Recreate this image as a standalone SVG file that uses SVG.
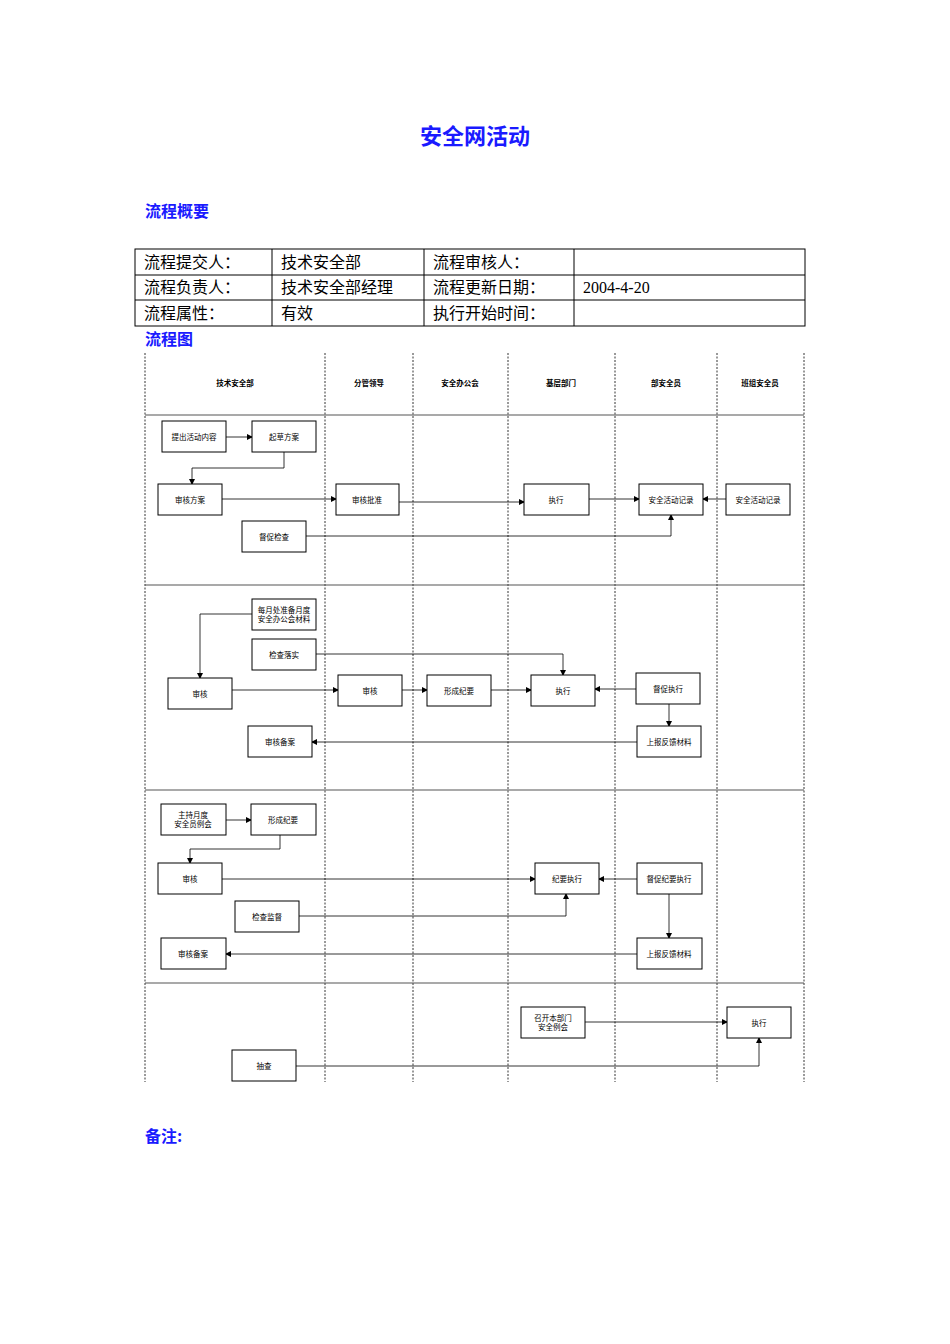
<svg xmlns="http://www.w3.org/2000/svg" width="950" height="1344" viewBox="0 0 950 1344">
<defs>
<marker id="ar" markerWidth="6" markerHeight="6" refX="5" refY="3" orient="auto" markerUnits="userSpaceOnUse"><path d="M0,0 L6,3 L0,6 Z" fill="#000"/></marker>
<style>
.bx{fill:#fff;stroke:#000;stroke-width:1}
.bt{font-family:"Noto Sans CJK SC",sans-serif;font-size:7.5px;text-anchor:middle;fill:#000}
.ht{font-family:"Noto Sans CJK SC",sans-serif;font-size:7.5px;font-weight:bold;text-anchor:middle}
.tt{font-family:"Liberation Serif","Noto Sans CJK SC",serif;font-size:16px}
.hd{font-family:"Noto Sans CJK SC",sans-serif;font-weight:bold;fill:#1a1aff;font-size:16px}
.cn{fill:none;stroke:#000;stroke-width:0.8;marker-end:url(#ar)}
.lane{stroke:#000;stroke-width:0.8;stroke-dasharray:2,1.5}
.sec{stroke:#555;stroke-width:1.2}
</style>
</defs>
<rect width="950" height="1344" fill="#fff"/>
<text x="475" y="144" class="hd" font-size="22" text-anchor="middle" style="font-size:22px">安全网活动</text>
<text x="145" y="217" class="hd">流程概要</text>
<g id="table" fill="none" stroke="#000" stroke-width="1">
<rect x="135" y="249" width="670" height="77"/>
<line x1="135" y1="275" x2="805" y2="275"/><line x1="135" y1="300" x2="805" y2="300"/>
<line x1="272" y1="249" x2="272" y2="326"/><line x1="424" y1="249" x2="424" y2="326"/><line x1="574" y1="249" x2="574" y2="326"/>
</g>
<g class="tt">
<text x="144" y="268">流程提交人：</text><text x="281" y="268">技术安全部</text><text x="433" y="268">流程审核人：</text>
<text x="144" y="293">流程负责人：</text><text x="281" y="293">技术安全部经理</text><text x="433" y="293">流程更新日期：</text><text x="583" y="293">2004-4-20</text>
<text x="144" y="319">流程属性：</text><text x="281" y="319">有效</text><text x="433" y="319">执行开始时间：</text>
</g>
<text x="145" y="345" class="hd">流程图</text>
<g id="lanes">
<line class="lane" x1="145" y1="353" x2="145" y2="1082"/>
<line class="lane" x1="325" y1="353" x2="325" y2="1082"/>
<line class="lane" x1="413" y1="353" x2="413" y2="1082"/>
<line class="lane" x1="508" y1="353" x2="508" y2="1082"/>
<line class="lane" x1="615" y1="353" x2="615" y2="1082"/>
<line class="lane" x1="717" y1="353" x2="717" y2="1082"/>
<line class="lane" x1="804" y1="353" x2="804" y2="1082"/>
<line class="sec" x1="145" y1="415" x2="804" y2="415"/>
<line class="sec" x1="145" y1="585" x2="804" y2="585"/>
<line class="sec" x1="145" y1="790" x2="804" y2="790"/>
<line class="sec" x1="145" y1="983" x2="804" y2="983"/>
<text class="ht" x="235" y="386">技术安全部</text>
<text class="ht" x="369" y="386">分管领导</text>
<text class="ht" x="460" y="386">安全办公会</text>
<text class="ht" x="561" y="386">基层部门</text>
<text class="ht" x="666" y="386">部安全员</text>
<text class="ht" x="760" y="386">班组安全员</text>
</g>
<g id="connectors">
<path class="cn" d="M226,437 H252"/>
<path class="cn" d="M284,452 V468 H192 V484"/>
<path class="cn" d="M222,499 H336"/>
<path class="cn" d="M399,502 H524"/>
<path class="cn" d="M589,499 H639"/>
<path class="cn" d="M726,499 H703"/>
<path class="cn" d="M306,536 H671 V515"/>
<path class="cn" d="M252,614 H200 V678"/>
<path class="cn" d="M316,654 H563 V675"/>
<path class="cn" d="M232,690 H338"/>
<path class="cn" d="M402,690 H427"/>
<path class="cn" d="M491,690 H531"/>
<path class="cn" d="M636,689 H595"/>
<path class="cn" d="M669,704 V726"/>
<path class="cn" d="M637,742 H312"/>
<path class="cn" d="M226,820 H251"/>
<path class="cn" d="M280,835 V849 H190 V863"/>
<path class="cn" d="M222,879 H535"/>
<path class="cn" d="M637,879 H599"/>
<path class="cn" d="M299,916 H566 V894"/>
<path class="cn" d="M669,894 V938"/>
<path class="cn" d="M637,954 H226"/>
<path class="cn" d="M585,1022 H727"/>
<path class="cn" d="M296,1066 H759 V1038"/>
</g>
<g id="n1"><rect class="bx" x="162" y="421" width="64" height="31"/><text class="bt" x="194" y="439.5">提出活动内容</text></g>
<g id="n2"><rect class="bx" x="252" y="421" width="64" height="31"/><text class="bt" x="284" y="439.5">起草方案</text></g>
<g id="n3"><rect class="bx" x="158" y="484" width="64" height="31"/><text class="bt" x="190" y="502.5">审核方案</text></g>
<g id="n4"><rect class="bx" x="242" y="521" width="64" height="31"/><text class="bt" x="274" y="539.5">督促检查</text></g>
<g id="n5"><rect class="bx" x="336" y="484" width="63" height="31"/><text class="bt" x="367" y="502.5">审核批准</text></g>
<g id="n6"><rect class="bx" x="524" y="484" width="65" height="31"/><text class="bt" x="556" y="502.5">执行</text></g>
<g id="n7"><rect class="bx" x="639" y="484" width="64" height="31"/><text class="bt" x="671" y="502.5">安全活动记录</text></g>
<g id="n8"><rect class="bx" x="726" y="484" width="64" height="31"/><text class="bt" x="758" y="502.5">安全活动记录</text></g>
<g id="n9"><rect class="bx" x="252" y="599" width="64" height="31"/><text class="bt" x="284" y="613">每月处准备月度</text><text class="bt" x="284" y="622">安全办公会材料</text></g>
<g id="n10"><rect class="bx" x="252" y="639" width="64" height="31"/><text class="bt" x="284" y="657.5">检查落实</text></g>
<g id="n11"><rect class="bx" x="168" y="678" width="64" height="31"/><text class="bt" x="200" y="696.5">审核</text></g>
<g id="n12"><rect class="bx" x="338" y="675" width="64" height="31"/><text class="bt" x="370" y="693.5">审核</text></g>
<g id="n13"><rect class="bx" x="427" y="675" width="64" height="31"/><text class="bt" x="459" y="693.5">形成纪要</text></g>
<g id="n14"><rect class="bx" x="531" y="675" width="64" height="31"/><text class="bt" x="563" y="693.5">执行</text></g>
<g id="n15"><rect class="bx" x="636" y="673" width="64" height="31"/><text class="bt" x="668" y="691.5">督促执行</text></g>
<g id="n16"><rect class="bx" x="637" y="726" width="64" height="31"/><text class="bt" x="669" y="744.5">上报反馈材料</text></g>
<g id="n17"><rect class="bx" x="248" y="726" width="64" height="31"/><text class="bt" x="280" y="744.5">审核备案</text></g>
<g id="n18"><rect class="bx" x="161" y="804" width="65" height="31"/><text class="bt" x="193" y="818">主持月度</text><text class="bt" x="193" y="827">安全员例会</text></g>
<g id="n19"><rect class="bx" x="251" y="804" width="65" height="31"/><text class="bt" x="283" y="822.5">形成纪要</text></g>
<g id="n20"><rect class="bx" x="158" y="863" width="64" height="31"/><text class="bt" x="190" y="881.5">审核</text></g>
<g id="n21"><rect class="bx" x="535" y="863" width="64" height="31"/><text class="bt" x="567" y="881.5">纪要执行</text></g>
<g id="n22"><rect class="bx" x="637" y="863" width="65" height="31"/><text class="bt" x="669" y="881.5">督促纪要执行</text></g>
<g id="n23"><rect class="bx" x="235" y="901" width="64" height="31"/><text class="bt" x="267" y="919.5">检查监督</text></g>
<g id="n24"><rect class="bx" x="161" y="938" width="65" height="31"/><text class="bt" x="193" y="956.5">审核备案</text></g>
<g id="n25"><rect class="bx" x="637" y="938" width="65" height="31"/><text class="bt" x="669" y="956.5">上报反馈材料</text></g>
<g id="n26"><rect class="bx" x="521" y="1007" width="64" height="31"/><text class="bt" x="553" y="1021">召开本部门</text><text class="bt" x="553" y="1030">安全例会</text></g>
<g id="n27"><rect class="bx" x="727" y="1007" width="64" height="31"/><text class="bt" x="759" y="1025.5">执行</text></g>
<g id="n28"><rect class="bx" x="232" y="1050" width="64" height="31"/><text class="bt" x="264" y="1068.5">抽查</text></g>
<text x="145" y="1142" class="hd">备注:</text>
</svg>
